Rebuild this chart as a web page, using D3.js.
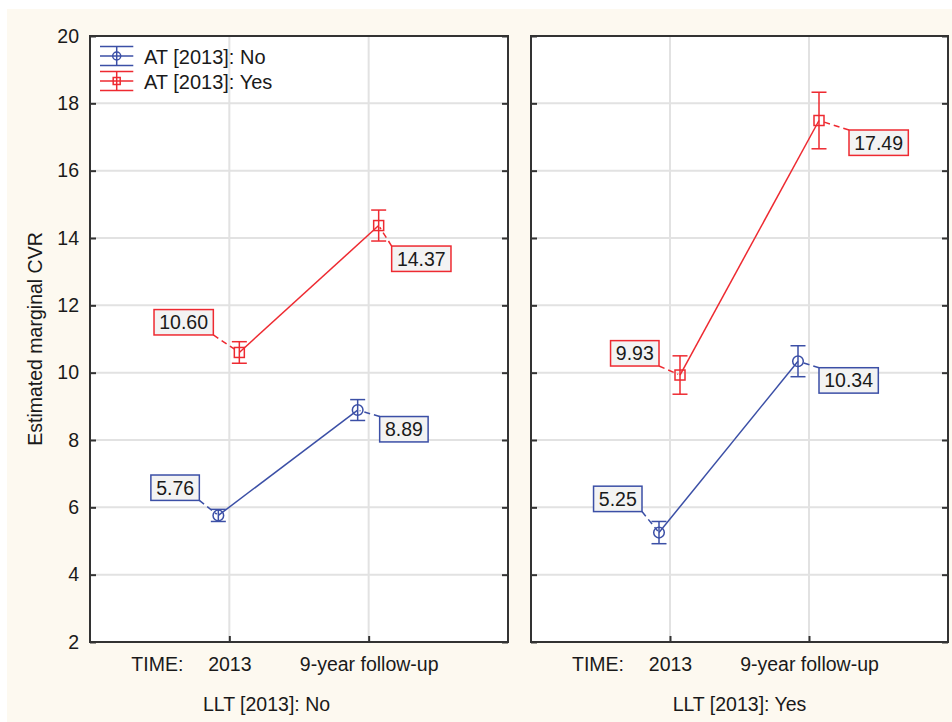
<!DOCTYPE html>
<html>
<head>
<meta charset="utf-8">
<script src="https://cdn.jsdelivr.net/npm/d3@7"></script>
<style>
  html, body { margin: 0; padding: 0; background: #ffffff; }
  svg { display: block; }
  text { font-family: "Liberation Sans", Arial, sans-serif; fill: #1a1a1a; }
</style>
</head>
<body>
<svg id="chart" width="952" height="722"></svg>
<script>
// ---------------- data ----------------
const timeLabels = ["2013", "9-year follow-up"];
const panelLabels = ["LLT [2013]: No", "LLT [2013]: Yes"];
const seriesNames = ["AT [2013]: No", "AT [2013]: Yes"];
const yTicks = [2, 4, 6, 8, 10, 12, 14, 16, 18, 20];

// estimated marginal means
const meanLLTNo_ATNo  = [5.76, 8.89];
const meanLLTNo_ATYes = [10.60, 14.37];
const meanLLTYes_ATNo  = [5.25, 10.34];
const meanLLTYes_ATYes = [9.93, 17.49];

// half-width of the error bars
const errLLTNo_ATNo  = [0.18, 0.31];
const errLLTNo_ATYes = [0.32, 0.46];
const errLLTYes_ATNo  = [0.33, 0.46];
const errLLTYes_ATYes = [0.57, 0.84];

// ---------------- layout / style ----------------
const W = 952, H = 722;
const plotTop = 36, plotBottom = 642;
const panelRanges = [[90, 508], [531, 948]];
const seriesColor = ["#3b4fa6", "#ee2a31"];
const seriesShift = [-11, 10];
// label box anchor nudges [dx, dy] per panel, series, time (layout only)
const labelNudge = [
  [[[-19, -15], [22, 6.5]], [[-26, -17.5], [13, 20.5]]],
  [[[-17, -21], [21, 6.5]], [[-21, -9], [30, 9.5]]]
];

const panelsData = [
  { label: panelLabels[0], series: [
      { mean: meanLLTNo_ATNo, err: errLLTNo_ATNo },
      { mean: meanLLTNo_ATYes, err: errLLTNo_ATYes } ] },
  { label: panelLabels[1], series: [
      { mean: meanLLTYes_ATNo, err: errLLTYes_ATNo },
      { mean: meanLLTYes_ATYes, err: errLLTYes_ATYes } ] }
];

const FONT = "Liberation Sans, Arial, sans-serif";
const svg = d3.select("#chart");

// cream background
svg.append("rect").attr("x", 7).attr("y", 9).attr("width", W - 7).attr("height", H - 9)
  .attr("fill", "#fdf9f0");

const y = d3.scaleLinear().domain([2, 20]).range([plotBottom, plotTop]);

function drawMarker(g, type, cx, cy, color, size) {
  if (type === 0) {
    g.append("circle").attr("cx", cx).attr("cy", cy).attr("r", size)
      .attr("fill", "none").attr("stroke", color).attr("stroke-width", 1.5);
  } else {
    g.append("rect").attr("x", cx - size).attr("y", cy - size)
      .attr("width", size * 2).attr("height", size * 2)
      .attr("fill", "none").attr("stroke", color).attr("stroke-width", 1.5);
  }
}

panelsData.forEach((p, pi) => {
  const [x0, x1] = panelRanges[pi];
  const x = d3.scalePoint().domain(timeLabels).range([x0, x1]).padding(1);
  const g = svg.append("g");

  // white plot area
  g.append("rect").attr("x", x0).attr("y", plotTop).attr("width", x1 - x0)
    .attr("height", plotBottom - plotTop).attr("fill", "#ffffff");

  // grid
  g.selectAll(".hg").data(yTicks).join("line")
    .attr("x1", x0).attr("x2", x1).attr("y1", d => y(d)).attr("y2", d => y(d))
    .attr("stroke", "#e2e2e2").attr("stroke-width", 2);
  g.selectAll(".vg").data(timeLabels).join("line")
    .attr("x1", d => x(d)).attr("x2", d => x(d)).attr("y1", plotTop).attr("y2", plotBottom)
    .attr("stroke", "#e2e2e2").attr("stroke-width", 2);

  // inward ticks via d3 axes
  const axL = d3.axisRight(y).tickValues(yTicks).tickSize(6).tickFormat("");
  const axR = d3.axisLeft(y).tickValues(yTicks).tickSize(6).tickFormat("");
  const axB = d3.axisTop(x).tickSize(6).tickFormat("");
  [[axL, `translate(${x0},0)`], [axR, `translate(${x1},0)`], [axB, `translate(0,${plotBottom})`]]
    .forEach(([ax, tr]) => {
      const a = g.append("g").attr("transform", tr).call(ax);
      a.select(".domain").remove();
      a.selectAll("line").attr("stroke", "#333").attr("stroke-width", 2);
    });

  // tick labels on left panel only
  if (pi === 0) {
    const ax = d3.axisLeft(y).tickValues(yTicks).tickSize(0).tickPadding(11);
    const a = svg.append("g").attr("transform", `translate(${x0},0)`).call(ax);
    a.select(".domain").remove();
    a.selectAll("text").attr("font-size", 19.5).attr("fill", "#1a1a1a")
      .attr("font-family", FONT);
  }

  // x labels
  const xl = d3.axisBottom(x).tickSize(0).tickPadding(0);
  const xa = svg.append("g").attr("transform", `translate(0,${plotBottom})`).call(xl);
  xa.select(".domain").remove();
  xa.selectAll("text").attr("font-size", 19.5).attr("dy", null).attr("y", 29)
    .attr("fill", "#1a1a1a").attr("font-family", FONT);
  svg.append("text").attr("x", x(timeLabels[0]) - 46).attr("y", plotBottom + 29)
    .attr("text-anchor", "end").attr("font-size", 19.5).text("TIME:");

  // panel label
  const panelCenter = pi === 0 ? 266.5 : (x0 + x1) / 2;
  svg.append("text").attr("x", panelCenter).attr("y", 711)
    .attr("text-anchor", "middle").attr("font-size", 19.5).text(p.label);

  // frame
  g.append("rect").attr("x", x0).attr("y", plotTop).attr("width", x1 - x0)
    .attr("height", plotBottom - plotTop).attr("fill", "none")
    .attr("stroke", "#333").attr("stroke-width", 2);

  // series
  p.series.forEach((s, si) => {
    const col = seriesColor[si];
    const px = t => x(t) + seriesShift[si];
    const pts = timeLabels.map((t, ti) => ({ t, ti, v: s.mean[ti], e: s.err[ti] }));

    const line = d3.line().x(d => px(d.t)).y(d => y(d.v));
    g.append("path").attr("d", line(pts)).attr("fill", "none")
      .attr("stroke", col).attr("stroke-width", 1.5);

    pts.forEach(d => {
      const cx = px(d.t);
      g.append("line").attr("x1", cx).attr("x2", cx)
        .attr("y1", y(d.v - d.e)).attr("y2", y(d.v + d.e))
        .attr("stroke", col).attr("stroke-width", 1.5);
      [d.v - d.e, d.v + d.e].forEach(v => {
        g.append("line").attr("x1", cx - 7.5).attr("x2", cx + 7.5)
          .attr("y1", y(v)).attr("y2", y(v)).attr("stroke", col).attr("stroke-width", 1.5);
      });
      drawMarker(g, si, cx, y(d.v), col, si === 0 ? 5.3 : 5);
    });

    // value labels
    pts.forEach(d => {
      const cx = px(d.t), cy = y(d.v);
      const [dx, dy] = labelNudge[pi][si][d.ti];
      const txt = d.v.toFixed(2);
      const lg = svg.append("g");
      const tEl = lg.append("text").attr("font-size", 19.5).text(txt);
      const tw = tEl.node().getComputedTextLength();
      const bw = tw + 10.5, bh = 25.4;
      let bx, by, ax, ay;
      if (d.ti === 0) { // box upper-left, anchored at its bottom-right corner
        ax = cx + dx; ay = cy + dy; bx = ax - bw; by = ay - bh;
      } else {          // box lower-right, anchored at its top-left corner
        ax = cx + dx; ay = cy + dy; bx = ax; by = ay;
      }
      // leader
      const len = Math.hypot(ax - cx, ay - cy);
      const ex = cx + (ax - cx) * (2 / len), ey = cy + (ay - cy) * (2 / len);
      lg.insert("line", "text").attr("x1", ax).attr("y1", ay).attr("x2", ex).attr("y2", ey)
        .attr("stroke", col).attr("stroke-width", 1.5).attr("stroke-dasharray", "6,4");
      lg.insert("rect", "text").attr("x", bx).attr("y", by).attr("width", bw).attr("height", bh)
        .attr("fill", "#f3f3f3").attr("stroke", col).attr("stroke-width", 1.5);
      tEl.attr("x", bx + bw / 2).attr("y", by + bh - 5.8).attr("text-anchor", "middle");
    });
  });
});

// y-axis title
svg.append("text").attr("transform", `translate(41.5,${(plotTop + plotBottom) / 2}) rotate(-90)`)
  .attr("text-anchor", "middle").attr("font-size", 19.5).text("Estimated marginal CVR");

// legend
const legend = svg.append("g");
seriesNames.forEach((name, i) => {
  const cy = 56 + i * 25, cx = 116.7, col = seriesColor[i];
  [-9.5, 0, 9.5].forEach(o => {
    legend.append("line").attr("x1", 100).attr("x2", 133.3).attr("y1", cy + o).attr("y2", cy + o)
      .attr("stroke", col).attr("stroke-width", 1.5);
  });
  legend.append("line").attr("x1", cx).attr("x2", cx).attr("y1", cy - 9.5).attr("y2", cy + 9.5)
    .attr("stroke", col).attr("stroke-width", 1.5);
  drawMarker(legend, i, cx, cy, col, i === 0 ? 4 : 3.5);
  legend.append("text").attr("x", 144).attr("y", cy + 8).attr("font-size", 20).text(name);
});
</script>
</body>
</html>
